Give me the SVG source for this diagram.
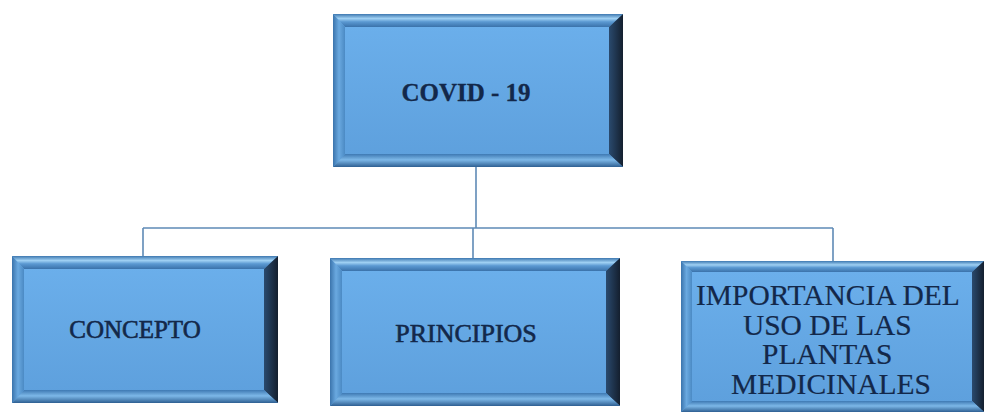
<svg xmlns="http://www.w3.org/2000/svg" width="987" height="416" viewBox="0 0 987 416">
<defs>
<style>
.face{fill:url(#gFace)}
.bt{fill:url(#gTop)}
.br{fill:url(#gRight)}
.bb{fill:url(#gBot)}
.bl{fill:url(#gLeft)}
.lbl{font-family:"Liberation Serif","Times New Roman",serif;fill:#13284a;text-anchor:middle}
.con{stroke:#5f8bb6;stroke-width:1.6;fill:none}
</style>
<linearGradient id="gFace" x1="0" y1="0" x2="0" y2="1">
<stop offset="0" stop-color="#6cb0ec"/><stop offset="1" stop-color="#5d9fdc"/>
</linearGradient>
<linearGradient id="gTop" x1="0" y1="0" x2="0" y2="1">
<stop offset="0" stop-color="#3e78b0"/><stop offset="0.35" stop-color="#9fd0f3"/><stop offset="0.6" stop-color="#5b99d2"/><stop offset="1" stop-color="#3a72aa"/>
</linearGradient>
<linearGradient id="gRight" x1="0" y1="0" x2="1" y2="0">
<stop offset="0" stop-color="#2a4a6e"/><stop offset="1" stop-color="#141f2e"/>
</linearGradient>
<linearGradient id="gBot" x1="0" y1="0" x2="0" y2="1">
<stop offset="0" stop-color="#3e79b3"/><stop offset="0.45" stop-color="#7db8e8"/><stop offset="1" stop-color="#2e5f92"/>
</linearGradient>
<linearGradient id="gLeft" x1="0" y1="0" x2="1" y2="0">
<stop offset="0" stop-color="#3b74ac"/><stop offset="0.5" stop-color="#6aa9e0"/><stop offset="1" stop-color="#4b8ac4"/>
</linearGradient>
</defs>
<rect width="987" height="416" fill="#ffffff"/>
<g id="connectors">
<path class="con" d="M476,167 V228 M143,228 H833 M143,228 V256 M473,228 V258 M833,228 V261"/>
</g>
<g id="node-covid">
<rect class="face" x="333" y="14" width="290" height="153"/>
<polygon class="bt" points="333,14 623,14 609,27 345,27"/>
<polygon class="br" points="623,14 623,167 609,154 609,27"/>
<polygon class="bb" points="333,167 623,167 609,154 345,154"/>
<polygon class="bl" points="333,14 345,27 345,154 333,167"/>
<text class="lbl" x="466" y="101" font-size="25" font-weight="bold" stroke="#13284a" stroke-width="0.3">COVID - 19</text>
</g>
<g id="node-concepto">
<rect class="face" x="12" y="256" width="266" height="147"/>
<polygon class="bt" points="12,256 278,256 264,269 24,269"/>
<polygon class="br" points="278,256 278,403 264,390 264,269"/>
<polygon class="bb" points="12,403 278,403 264,390 24,390"/>
<polygon class="bl" points="12,256 24,269 24,390 12,403"/>
<text class="lbl" x="135" y="338" font-size="25" stroke="#13284a" stroke-width="0.6">CONCEPTO</text>
</g>
<g id="node-principios">
<rect class="face" x="330" y="258" width="290" height="148"/>
<polygon class="bt" points="330,258 620,258 606,271 342,271"/>
<polygon class="br" points="620,258 620,406 606,393 606,271"/>
<polygon class="bb" points="330,406 620,406 606,393 342,393"/>
<polygon class="bl" points="330,258 342,271 342,393 330,406"/>
<text class="lbl" x="466" y="342" font-size="26" stroke="#13284a" stroke-width="0.6">PRINCIPIOS</text>
</g>
<g id="node-importancia">
<rect class="face" x="681" y="261" width="303" height="151"/>
<polygon class="bt" points="681,261 984,261 972,272 692,272"/>
<polygon class="br" points="984,261 984,412 972,401 972,272"/>
<polygon class="bb" points="681,412 984,412 972,401 692,401"/>
<polygon class="bl" points="681,261 692,272 692,401 681,412"/>
<text class="lbl" x="831" font-size="29.5" stroke="#13284a" stroke-width="0.2">
<tspan x="831" y="305">IMPORTANCIA DEL</tspan>
<tspan x="831" y="335">USO DE LAS</tspan>
<tspan x="831" y="364">PLANTAS</tspan>
<tspan x="831" y="394">MEDICINALES</tspan>
</text>
</g>
</svg>
